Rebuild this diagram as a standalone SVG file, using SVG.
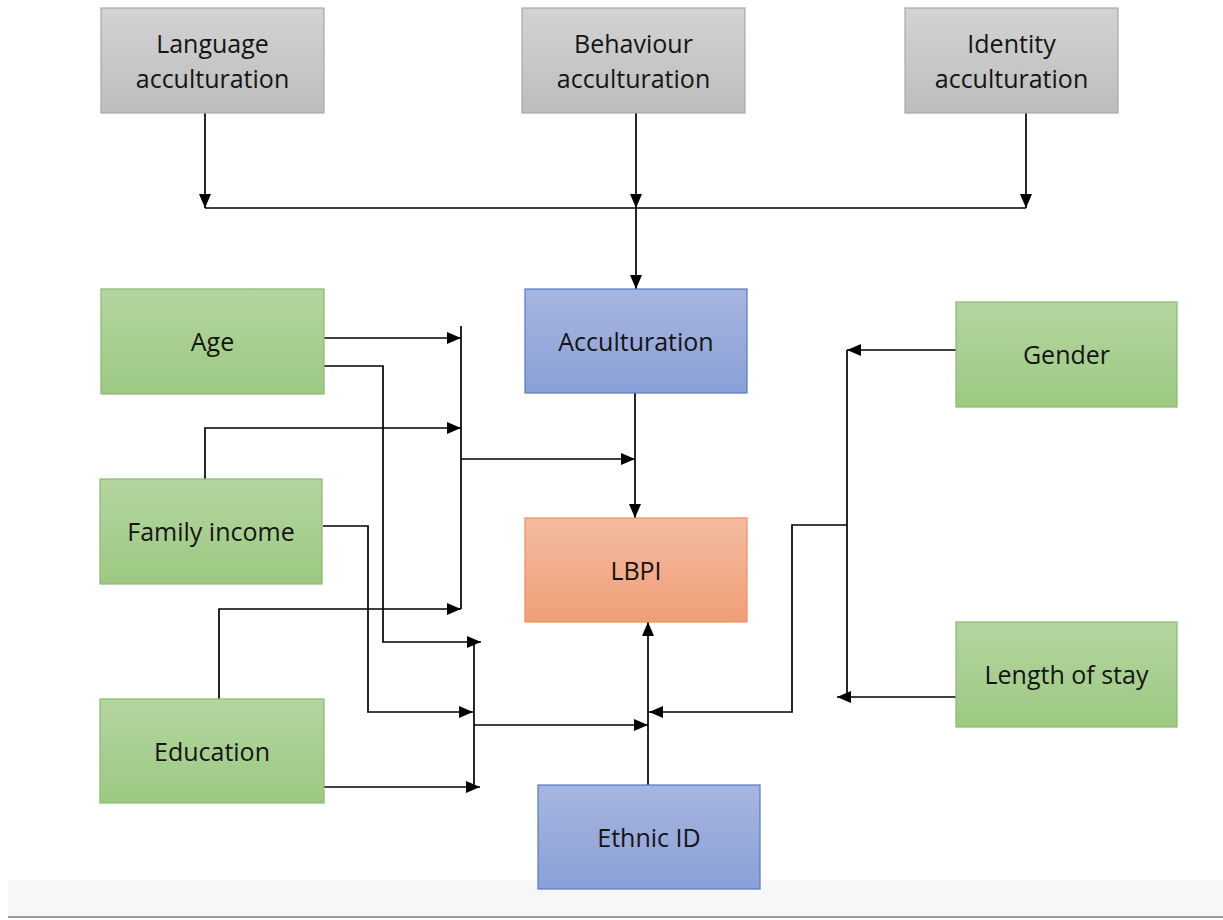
<svg xmlns="http://www.w3.org/2000/svg" width="1223" height="920" viewBox="0 0 1223 920">
  <defs>
    <linearGradient id="gGray" x1="0" y1="0" x2="0" y2="1">
      <stop offset="0" stop-color="#d3d3d3"/>
      <stop offset="1" stop-color="#bdbdbd"/>
    </linearGradient>
    <linearGradient id="gGreen" x1="0" y1="0" x2="0" y2="1">
      <stop offset="0" stop-color="#b3d59f"/>
      <stop offset="1" stop-color="#9dc982"/>
    </linearGradient>
    <linearGradient id="gBlue" x1="0" y1="0" x2="0" y2="1">
      <stop offset="0" stop-color="#a7b6e0"/>
      <stop offset="1" stop-color="#8aa0d6"/>
    </linearGradient>
    <linearGradient id="gOrange" x1="0" y1="0" x2="0" y2="1">
      <stop offset="0" stop-color="#f4bba1"/>
      <stop offset="1" stop-color="#f09f77"/>
    </linearGradient>
    <marker id="arrow" markerUnits="userSpaceOnUse" markerWidth="14" markerHeight="12" viewBox="0 0 14 12" refX="14" refY="6" orient="auto">
      <path d="M0,0 L14,6 L0,12 z" fill="#000"/>
    </marker>
  </defs>
  <style>
    .box text { font-family: "Open Sans", "Liberation Sans", sans-serif; font-size: 25px; fill: #141414; text-anchor: middle; }
    .gray { fill: url(#gGray); stroke: #a9a9a9; stroke-width: 1.2; }
    .green { fill: url(#gGreen); stroke: #8bb96d; stroke-width: 1.2; }
    .blue { fill: url(#gBlue); stroke: #5578c4; stroke-width: 1.2; }
    .orange { fill: url(#gOrange); stroke: #ec8f5e; stroke-width: 1.2; }
    .wire { fill: none; stroke: #000; stroke-width: 1.7; }
    .arr { marker-end: url(#arrow); }
  </style>

  <rect x="0" y="0" width="1223" height="920" fill="#ffffff"/>

  <!-- footer band -->
  <rect x="8" y="880" width="1215" height="36" fill="#f7f7f7"/>
  <line x1="8" y1="917" x2="1223" y2="917" stroke="#9c9c9c" stroke-width="2"/>

  <!-- connectors -->
  <g id="connectors">
    <!-- acculturation dimensions -->
    <path class="wire arr" d="M205,113 V208"/>
    <path class="wire arr" d="M636,113 V208"/>
    <path class="wire arr" d="M1026,113 V208"/>
    <path class="wire" d="M205,208 H1026"/>
    <path class="wire arr" d="M636,208 V289"/>

    <!-- acculturation to LBPI -->
    <path class="wire arr" d="M635,393 V518"/>

    <!-- upper moderator bar -->
    <path class="wire" d="M461,326 V609"/>
    <path class="wire arr" d="M324,338 H461"/>
    <path class="wire arr" d="M205,479 V428 H461"/>
    <path class="wire arr" d="M219,699 V609 H461"/>
    <path class="wire arr" d="M461,459 H635"/>

    <!-- lower moderator bar -->
    <path class="wire" d="M474,642 V787"/>
    <path class="wire arr" d="M324,366 H383 V642 H481"/>
    <path class="wire arr" d="M323,526 H368 V712 H473"/>
    <path class="wire arr" d="M324,787 H480"/>
    <path class="wire arr" d="M474,725 H648"/>

    <!-- ethnic ID to LBPI -->
    <path class="wire arr" d="M648,785 V622"/>

    <!-- right moderator bar -->
    <path class="wire" d="M847,350 V697"/>
    <path class="wire arr" d="M956,350 H847"/>
    <path class="wire arr" d="M956,697 H837"/>
    <path class="wire arr" d="M847,525 H792 V712 H649"/>
  </g>

  <g id="language" class="box">
    <rect class="gray" x="101" y="8" width="223" height="105"/>
    <text x="212.5" y="53">Language</text>
    <text x="212.5" y="88">acculturation</text>
  </g>
  <g id="behaviour" class="box">
    <rect class="gray" x="522" y="8" width="223" height="105"/>
    <text x="633.5" y="53">Behaviour</text>
    <text x="633.5" y="88">acculturation</text>
  </g>
  <g id="identity" class="box">
    <rect class="gray" x="905" y="8" width="213" height="105"/>
    <text x="1011.5" y="53">Identity</text>
    <text x="1011.5" y="88">acculturation</text>
  </g>

  <g id="acculturation" class="box">
    <rect class="blue" x="525" y="289" width="222" height="104"/>
    <text x="636" y="351">Acculturation</text>
  </g>
  <g id="lbpi" class="box">
    <rect class="orange" x="525" y="518" width="222" height="104"/>
    <text x="636" y="580">LBPI</text>
  </g>
  <g id="ethnic-id" class="box">
    <rect class="blue" x="538" y="785" width="222" height="104"/>
    <text x="649" y="847">Ethnic ID</text>
  </g>

  <g id="age" class="box">
    <rect class="green" x="101" y="289" width="223" height="105"/>
    <text x="212.5" y="351">Age</text>
  </g>
  <g id="family-income" class="box">
    <rect class="green" x="100" y="479" width="222" height="105"/>
    <text x="211" y="541">Family income</text>
  </g>
  <g id="education" class="box">
    <rect class="green" x="100" y="699" width="224" height="104"/>
    <text x="212" y="761">Education</text>
  </g>

  <g id="gender" class="box">
    <rect class="green" x="956" y="302" width="221" height="105"/>
    <text x="1066.5" y="364">Gender</text>
  </g>
  <g id="length-of-stay" class="box">
    <rect class="green" x="956" y="622" width="221" height="105"/>
    <text x="1066.5" y="684">Length of stay</text>
  </g>
</svg>
